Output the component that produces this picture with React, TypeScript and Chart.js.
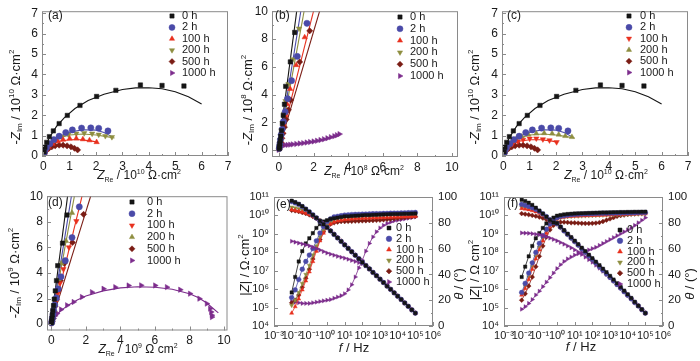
import React, { useEffect, useRef } from "react";
import { Chart, registerables } from "chart.js";
import { drawPoint } from "chart.js/helpers";

Chart.register(...registerables);

const FONT = '"Liberation Sans", Arial, Helvetica, sans-serif';
const INK = "#1a1a1a";
const FRAME = "#8a8a8a";

type Pt = [number, number];

// ---------- series ----------
const seriesLabels = ["0 h", "2 h", "100 h", "200 h", "500 h", "1000 h"];
const seriesColors = ["#151515", "#4a4aa8", "#e8301e", "#8e8e40", "#7a1c14", "#7c2c8c"];

// ---------- (a) and (c): Nyquist, 10^10 Ω·cm² ----------
const acPts0: Pt[] = [[0.03, 0.2], [0.06, 0.43], [0.13, 0.67], [0.23, 0.95], [0.38, 1.23], [0.6, 1.59], [0.91, 1.99], [1.39, 2.48], [2.02, 2.92], [2.75, 3.22], [3.68, 3.48], [4.5, 3.46], [5.33, 3.43]];
const acFit0: Pt[] = [[0, 0], [0.05, 0.3], [0.15, 0.7], [0.3, 1.05], [0.5, 1.45], [0.8, 1.88], [1.2, 2.33], [1.7, 2.72], [2.3, 3.03], [3.0, 3.26], [3.5, 3.34], [4.0, 3.35], [4.5, 3.3], [5.0, 3.15], [5.5, 2.9], [6.0, 2.55]];
const acPts2: Pt[] = [[0.02, 0.1], [0.05, 0.22], [0.12, 0.4], [0.25, 0.6], [0.4, 0.8], [0.6, 0.97], [0.85, 1.15], [1.1, 1.28], [1.45, 1.37], [1.8, 1.38], [2.1, 1.36], [2.45, 1.23]];
const acFit2: Pt[] = [[0, 0], [0.1, 0.38], [0.3, 0.7], [0.6, 0.96], [1.0, 1.17], [1.5, 1.29], [2.0, 1.27], [2.3, 1.15], [2.6, 0.95]];
const acPts100: Pt[] = [[0.02, 0.06], [0.04, 0.14], [0.1, 0.3], [0.2, 0.45], [0.35, 0.6], [0.55, 0.72], [0.75, 0.8], [1.0, 0.85], [1.25, 0.86], [1.5, 0.82], [1.75, 0.77], [2.02, 0.68]];
const acFit100: Pt[] = [[0, 0], [0.1, 0.28], [0.3, 0.55], [0.6, 0.72], [1.0, 0.8], [1.4, 0.8], [1.8, 0.74], [2.05, 0.68]];
const acPts200: Pt[] = [[0.02, 0.08], [0.04, 0.18], [0.09, 0.33], [0.18, 0.5], [0.3, 0.66], [0.48, 0.82], [0.7, 0.95], [0.95, 1.05], [1.25, 1.1], [1.55, 1.12], [1.85, 1.1], [2.1, 1.05], [2.35, 0.98], [2.6, 0.93]];
const acFit200: Pt[] = [[0, 0], [0.1, 0.35], [0.3, 0.65], [0.6, 0.88], [1.0, 1.03], [1.5, 1.08], [2.0, 1.03], [2.4, 0.95], [2.7, 0.88]];
const acPts500: Pt[] = [[0.02, 0.05], [0.04, 0.12], [0.08, 0.22], [0.14, 0.31], [0.22, 0.39], [0.32, 0.45], [0.45, 0.5], [0.6, 0.53], [0.75, 0.53], [0.9, 0.5], [1.05, 0.45], [1.18, 0.38], [1.3, 0.3]];
const acFit500: Pt[] = [[0, 0], [0.1, 0.25], [0.3, 0.43], [0.6, 0.52], [0.9, 0.49], [1.1, 0.42], [1.3, 0.3]];
const acPts1000: Pt[] = [[0.01, 0.02], [0.02, 0.05], [0.03, 0.08]];

// ---------- (b): Nyquist, 10^8 Ω·cm² ----------
const bPts0: Pt[] = [[0.02, 0.1], [0.03, 0.25], [0.05, 0.45], [0.08, 0.7], [0.11, 1.0], [0.15, 1.4], [0.2, 1.9], [0.25, 2.5], [0.32, 3.3], [0.39, 4.59], [0.66, 6.35], [0.91, 8.47]];
const bPts2: Pt[] = [[0.02, 0.12], [0.04, 0.3], [0.06, 0.5], [0.09, 0.75], [0.13, 1.1], [0.19, 1.5], [0.26, 2.05], [0.36, 2.75], [0.5, 3.7], [0.73, 5.0], [1.06, 6.75], [1.62, 9.13]];
const bPts100: Pt[] = [[0.02, 0.1], [0.04, 0.25], [0.06, 0.42], [0.1, 0.65], [0.14, 0.95], [0.2, 1.35], [0.27, 1.85], [0.36, 2.5], [0.48, 3.3], [0.65, 4.4], [1.0, 6.12], [1.49, 8.12]];
const bPts200: Pt[] = [[0.02, 0.1], [0.03, 0.27], [0.05, 0.45], [0.08, 0.7], [0.11, 1.02], [0.15, 1.42], [0.21, 1.95], [0.29, 2.6], [0.38, 3.53], [0.55, 4.75], [0.81, 6.54], [1.16, 8.75]];
const bPts500: Pt[] = [[0.02, 0.06], [0.04, 0.18], [0.08, 0.35], [0.12, 0.55], [0.17, 0.85], [0.24, 1.2], [0.32, 1.65], [0.42, 2.2], [0.55, 2.9], [0.68, 3.6], [1.2, 6.35], [1.78, 8.59]];
const bPts1000: Pt[] = [[-0.02, 0.02], [0.0, 0.12], [0.02, 0.22], [0.04, 0.29], [0.08, 0.33], [0.15, 0.34], [0.25, 0.35], [0.35, 0.36], [0.5, 0.37], [0.65, 0.39], [0.8, 0.41], [1.0, 0.44], [1.2, 0.47], [1.4, 0.5], [1.6, 0.54], [1.8, 0.58], [2.0, 0.62], [2.2, 0.67], [2.4, 0.72], [2.6, 0.78], [2.8, 0.85], [3.0, 0.93], [3.2, 1.0], [3.35, 1.07], [3.5, 1.15]];
const bFit0: Pt[] = [[-0.03, 0], [1.08, 10.5]];
const bFit2: Pt[] = [[-0.03, 0], [1.33, 10.5]];
const bFit100: Pt[] = [[-0.03, 0], [2.1, 10.5]];
const bFit200: Pt[] = [[-0.03, 0], [1.53, 10.5]];
const bFit500: Pt[] = [[-0.03, 0], [2.47, 10.5]];

// ---------- (d): Nyquist, 10^9 Ω·cm² ----------
const dPts0: Pt[] = [[0.01, 0.1], [0.02, 0.25], [0.04, 0.45], [0.06, 0.72], [0.09, 1.05], [0.13, 1.45], [0.17, 1.95], [0.23, 2.6], [0.3, 3.4], [0.37, 4.57], [0.65, 6.33], [0.91, 8.53]];
const dPts2: Pt[] = [[0.02, 0.1], [0.04, 0.28], [0.06, 0.48], [0.1, 0.75], [0.14, 1.08], [0.2, 1.5], [0.29, 2.05], [0.4, 2.75], [0.56, 3.7], [0.81, 4.96], [1.2, 6.77], [1.62, 9.17]];
const dPts100: Pt[] = [[0.02, 0.08], [0.04, 0.22], [0.06, 0.4], [0.1, 0.62], [0.14, 0.92], [0.2, 1.3], [0.27, 1.8], [0.37, 2.4], [0.5, 3.2], [0.7, 4.3], [1.02, 6.0], [1.45, 8.05]];
const dPts200: Pt[] = [[0.02, 0.1], [0.03, 0.26], [0.05, 0.45], [0.08, 0.7], [0.11, 1.02], [0.16, 1.42], [0.22, 1.95], [0.3, 2.6], [0.42, 3.5], [0.58, 4.75], [0.85, 6.5], [1.2, 8.7]];
const dPts500: Pt[] = [[0.02, 0.07], [0.04, 0.2], [0.07, 0.4], [0.11, 0.65], [0.16, 0.98], [0.22, 1.4], [0.3, 1.9], [0.4, 2.6], [0.52, 3.4], [0.75, 4.75], [1.23, 6.38], [1.87, 8.58]];
const dPts1000: Pt[] = [[0.01, 0.05], [0.05, 0.2], [0.13, 0.44], [0.22, 0.65], [0.33, 0.83], [0.56, 1.14], [0.91, 1.47], [1.29, 1.73], [1.77, 2.12], [2.35, 2.5], [3.02, 2.76], [3.7, 2.89], [4.47, 3.02], [5.2, 3.03], [6.01, 3.02], [6.69, 2.89], [7.46, 2.69], [8.03, 2.38], [8.57, 1.99], [9.0, 1.6], [9.19, 1.21], [9.25, 0.95], [9.29, 0.7], [9.3, 0.55]];
const dFit0: Pt[] = [[-0.03, 0], [0.98, 10.4]];
const dFit2: Pt[] = [[-0.03, 0], [1.21, 10.4]];
const dFit100: Pt[] = [[-0.03, 0], [1.85, 10.4]];
const dFit200: Pt[] = [[-0.03, 0], [1.39, 10.4]];
const dFit500: Pt[] = [[-0.03, 0], [2.37, 10.4]];
const dFit1000: Pt[] = [[0, 0], [0.2, 0.55], [0.5, 1.0], [1, 1.5], [1.5, 1.88], [2, 2.2], [3, 2.6], [4, 2.83], [5, 2.92], [6, 2.88], [7, 2.72], [8, 2.38], [8.5, 2.08], [9, 1.65], [9.3, 1.3], [9.67, 0.88]];

// ---------- (e), (f): Bode ----------
const freqHz = [0.01, 0.0158, 0.0251, 0.0398, 0.0631, 0.1, 0.158, 0.251, 0.398, 0.631, 1, 1.58, 2.51, 3.98, 6.31, 10, 15.8, 25.1, 39.8, 63.1, 100, 158, 251, 398, 631, 1000, 1580, 2510, 3980, 6310, 10000, 15800, 25100, 39800, 63100, 100000];

// log10 |Z| (Ω·cm²)
const eLogZ0 = [10.8, 10.72, 10.62, 10.5, 10.35, 10.2, 10.03, 9.87, 9.7, 9.52, 9.35, 9.16, 8.97, 8.78, 8.59, 8.4, 8.21, 8.03, 7.84, 7.65, 7.46, 7.28, 7.1, 6.91, 6.73, 6.54, 6.36, 6.17, 5.99, 5.8, 5.62, 5.44, 5.25, 5.07, 4.88, 4.7];
const eLogZ2 = [10.75, 10.68, 10.6, 10.48, 10.34, 10.19, 10.03, 9.86, 9.69, 9.52, 9.35, 9.16, 8.97, 8.78, 8.59, 8.4, 8.21, 8.03, 7.84, 7.65, 7.46, 7.28, 7.1, 6.91, 6.73, 6.54, 6.36, 6.17, 5.99, 5.8, 5.62, 5.44, 5.25, 5.07, 4.88, 4.7];
const eLogZ100 = [10.31, 10.27, 10.23, 10.18, 10.12, 10.05, 9.96, 9.85, 9.71, 9.54, 9.36, 9.17, 8.98, 8.79, 8.6, 8.41, 8.22, 8.03, 7.84, 7.65, 7.46, 7.28, 7.1, 6.91, 6.73, 6.54, 6.36, 6.17, 5.99, 5.8, 5.62, 5.44, 5.25, 5.07, 4.88, 4.7];
const eLogZ200 = [10.45, 10.41, 10.36, 10.3, 10.22, 10.13, 10.02, 9.89, 9.74, 9.55, 9.37, 9.17, 8.98, 8.79, 8.6, 8.41, 8.22, 8.03, 7.84, 7.65, 7.46, 7.28, 7.1, 6.91, 6.73, 6.54, 6.36, 6.17, 5.99, 5.8, 5.62, 5.44, 5.25, 5.07, 4.88, 4.7];
const eLogZ500 = [10.28, 10.25, 10.21, 10.16, 10.1, 10.03, 9.94, 9.83, 9.7, 9.53, 9.36, 9.17, 8.98, 8.79, 8.6, 8.41, 8.22, 8.03, 7.84, 7.65, 7.46, 7.28, 7.1, 6.91, 6.73, 6.54, 6.36, 6.17, 5.99, 5.8, 5.62, 5.44, 5.25, 5.07, 4.88, 4.7];
const eLogZ1000 = [8.6, 8.55, 8.5, 8.45, 8.4, 8.35, 8.28, 8.2, 8.12, 8.04, 7.96, 7.9, 7.84, 7.78, 7.73, 7.68, 7.62, 7.56, 7.5, 7.44, 7.38, 7.26, 7.09, 6.91, 6.73, 6.54, 6.36, 6.17, 5.99, 5.8, 5.62, 5.44, 5.25, 5.07, 4.88, 4.7];
// phase angle θ (°)
const eTheta0 = [26, 38, 50, 58, 64, 68, 72, 76, 79, 81, 82, 83, 83.5, 84, 84.5, 85, 85, 85.3, 85.5, 85.6, 85.8, 86, 86, 86.2, 86.3, 86.4, 86.5, 86.6, 86.7, 86.8, 86.8, 86.9, 87, 87, 87.1, 87.2];
const eTheta2 = [22, 28, 36, 44, 50, 55, 60, 66, 72, 77, 81, 83, 84.5, 85, 85.5, 86, 86.2, 86.4, 86.5, 86.6, 86.7, 86.8, 86.9, 87, 87, 87.1, 87.2, 87.3, 87.4, 87.5, 87.5, 87.6, 87.7, 87.8, 87.9, 88];
const eTheta100 = [10, 15, 21, 28, 35, 42, 50, 58, 66, 72, 76, 79, 80.5, 81.5, 82, 82.5, 82.8, 83, 83.2, 83.4, 83.5, 83.6, 83.7, 83.8, 83.9, 84, 84.1, 84.2, 84.3, 84.4, 84.5, 84.6, 84.7, 84.8, 84.9, 85];
const eTheta200 = [16, 20, 26, 33, 40, 47, 55, 62, 69, 74, 78, 80.5, 82, 83, 83.5, 84, 84.2, 84.4, 84.6, 84.8, 84.9, 85, 85.1, 85.2, 85.3, 85.4, 85.5, 85.6, 85.7, 85.8, 85.9, 86, 86, 86.1, 86.2, 86.3];
const eTheta500 = [18, 20, 24, 30, 37, 44, 52, 60, 67, 73, 77, 79, 80, 80.5, 81, 81, 81.1, 81.2, 81.3, 81.4, 81.5, 81.6, 81.7, 81.8, 81.9, 82, 82.3, 82.6, 82.9, 83.2, 83.5, 83.8, 84.1, 84.4, 84.7, 85];
const eTheta1000 = [19, 18.5, 18, 17.5, 17.5, 17.5, 18, 18.5, 19, 19.5, 20, 20.5, 21.5, 22.5, 23.5, 25, 28, 32, 38, 45, 51, 58, 64, 69, 73, 76, 78, 79.5, 80.5, 81.5, 82, 82.5, 83, 83.5, 84, 84.5];

const fLogZ0 = [10.85, 10.78, 10.69, 10.57, 10.42, 10.26, 10.1, 9.93, 9.76, 9.62, 9.58, 9.39, 9.2, 9.01, 8.82, 8.63, 8.44, 8.25, 8.06, 7.87, 7.68, 7.49, 7.3, 7.11, 6.92, 6.72, 6.52, 6.32, 6.12, 5.92, 5.72, 5.52, 5.31, 5.1, 4.9, 4.7];
const fLogZ2 = [10.6, 10.55, 10.49, 10.42, 10.33, 10.22, 10.08, 9.93, 9.77, 9.62, 9.55, 9.36, 9.16, 8.97, 8.77, 8.58, 8.39, 8.19, 8.0, 7.8, 7.61, 7.42, 7.22, 7.03, 6.83, 6.64, 6.45, 6.25, 6.06, 5.86, 5.67, 5.48, 5.28, 5.09, 4.89, 4.7];
const fLogZ100 = [10.38, 10.35, 10.31, 10.26, 10.2, 10.12, 10.02, 9.9, 9.76, 9.62, 9.55, 9.36, 9.16, 8.97, 8.77, 8.58, 8.39, 8.19, 8.0, 7.8, 7.61, 7.42, 7.22, 7.03, 6.83, 6.64, 6.45, 6.25, 6.06, 5.86, 5.67, 5.48, 5.28, 5.09, 4.89, 4.7];
const fLogZ200 = [10.45, 10.42, 10.38, 10.33, 10.26, 10.17, 10.06, 9.93, 9.78, 9.63, 9.55, 9.36, 9.16, 8.97, 8.77, 8.58, 8.39, 8.19, 8.0, 7.8, 7.61, 7.42, 7.22, 7.03, 6.83, 6.64, 6.45, 6.25, 6.06, 5.86, 5.67, 5.48, 5.28, 5.09, 4.89, 4.7];
const fLogZ500 = [10.1, 10.07, 10.04, 10.0, 9.96, 9.91, 9.85, 9.78, 9.7, 9.62, 9.54, 9.35, 9.16, 8.97, 8.77, 8.58, 8.39, 8.19, 8.0, 7.8, 7.61, 7.42, 7.22, 7.03, 6.83, 6.64, 6.45, 6.25, 6.06, 5.86, 5.67, 5.48, 5.28, 5.09, 4.89, 4.7];
const fLogZ1000 = [9.05, 9.04, 9.03, 9.01, 8.98, 8.95, 8.9, 8.84, 8.77, 8.7, 8.62, 8.53, 8.44, 8.34, 8.24, 8.13, 8.01, 7.88, 7.74, 7.6, 7.46, 7.3, 7.14, 6.97, 6.8, 6.63, 6.45, 6.25, 6.06, 5.86, 5.67, 5.48, 5.28, 5.09, 4.89, 4.7];
const fTheta0 = [38, 46, 54, 62, 68, 72, 76, 79.5, 82, 84, 85.5, 86, 86.5, 86.8, 87, 87.2, 87.3, 87.4, 87.5, 87.6, 87.7, 87.8, 87.9, 88, 88, 88.1, 88.2, 88.2, 88.3, 88.3, 88.4, 88.4, 88.5, 88.5, 88.6, 88.6];
const fTheta2 = [26, 33, 41, 49, 57, 64, 70, 75, 79, 82, 84, 85, 85.5, 86, 86.3, 86.5, 86.7, 86.8, 86.9, 87, 87.1, 87.2, 87.3, 87.4, 87.4, 87.5, 87.5, 87.6, 87.6, 87.7, 87.7, 87.8, 87.8, 87.9, 87.9, 88];
const fTheta100 = [24, 29, 36, 44, 52, 59, 66, 72, 77, 80.5, 83, 84, 84.5, 84.8, 85, 85.2, 85.3, 85.4, 85.5, 85.6, 85.7, 85.8, 85.9, 86, 86.1, 86.2, 86.3, 86.4, 86.5, 86.6, 86.7, 86.8, 86.8, 86.9, 86.9, 87];
const fTheta200 = [25, 31, 38, 46, 54, 61, 68, 73.5, 78, 81, 83, 84, 84.5, 84.8, 85, 85.1, 85.2, 85.3, 85.4, 85.5, 85.6, 85.7, 85.8, 85.9, 86, 86.1, 86.2, 86.3, 86.4, 86.5, 86.6, 86.7, 86.8, 86.8, 86.9, 87];
const fTheta500 = [20, 25, 31, 38, 46, 54, 62, 69, 74.5, 78, 80, 80.5, 80.5, 80.3, 80, 80, 79.8, 79.6, 79.5, 79.5, 79.6, 79.8, 80.2, 81, 82, 83, 84, 85, 85.6, 86, 86.4, 86.7, 87, 87.2, 87.4, 87.5];
const fTheta1000 = [13, 15, 17.5, 20.5, 24, 27, 30.5, 34, 37.5, 41, 44.5, 47.5, 50, 52, 53.5, 55, 56, 57, 58, 59, 60, 61, 62.5, 64, 65.5, 67, 68.5, 70, 71.5, 73, 74.5, 76, 78, 80, 82, 84];

// ---------- tick labels ----------
const acXTicks = [0, 1, 2, 3, 4, 5, 6, 7];
const acYTicks = [0, 1, 2, 3, 4, 5, 6, 7];
const bdTicks = [0, 2, 4, 6, 8, 10];
const freqTicks = [1e-3, 1e-2, 1e-1, 1, 1e1, 1e2, 1e3, 1e4, 1e5, 1e6];
const zTicks = [1e4, 1e5, 1e6, 1e7, 1e8, 1e9, 1e10, 1e11];
const thetaTicks = [0, 20, 40, 60, 80, 100];

// ---------- styles ----------
type Style = { ps: string; rot: number };
const stylesA: Style[] = [
  { ps: "rect", rot: 0 }, { ps: "circle", rot: 0 }, { ps: "triangle", rot: 0 },
  { ps: "triangle", rot: 180 }, { ps: "rectRot", rot: 0 }, { ps: "triangle", rot: 90 },
];
const stylesC: Style[] = [
  { ps: "rect", rot: 0 }, { ps: "circle", rot: 0 }, { ps: "triangle", rot: 180 },
  { ps: "triangle", rot: 0 }, { ps: "rectRot", rot: 0 }, { ps: "triangle", rot: 90 },
];

const SUP: Record<string, string> = { "-": "⁻", "0": "⁰", "1": "¹", "2": "²", "3": "³", "4": "⁴", "5": "⁵", "6": "⁶", "7": "⁷", "8": "⁸", "9": "⁹" };
const pow10Label = (v: number) => "10" + String(Math.round(Math.log10(v))).split("").map((c) => SUP[c]).join("");

type Part = [string, string];
function drawRich(ctx: CanvasRenderingContext2D, parts: Part[], x: number, y: number, size: number, rot: number) {
  const small = Math.round(size * 0.62);
  const fontFor = (k: string) =>
    k === "i" ? `italic ${size}px ${FONT}` : k === "sub" || k === "sup" ? `${small}px ${FONT}` : `${size}px ${FONT}`;
  let total = 0;
  const ws = parts.map(([t, k]) => {
    ctx.font = fontFor(k);
    const w = ctx.measureText(t).width;
    total += w;
    return w;
  });
  ctx.save();
  ctx.translate(x, y);
  ctx.rotate(rot);
  ctx.textBaseline = "middle";
  ctx.textAlign = "left";
  ctx.fillStyle = INK;
  let cur = -total / 2;
  parts.forEach(([t, k], i) => {
    ctx.font = fontFor(k);
    const dy = k === "sub" ? size * 0.32 : k === "sup" ? -size * 0.36 : 0;
    ctx.fillText(t, cur, dy);
    cur += ws[i];
  });
  ctx.restore();
}

interface Box { cx: number; cy: number; cw: number; ch: number; L: number; R: number; T: number; B: number }
interface Title { parts: Part[]; x: number; y: number; size: number; rot: number }
interface Deco {
  tag: string; tagX: number; tagY: number;
  legend: { mx: number; tx: number; y0: number; dy: number; r: number; styles: Style[] };
  titles: Title[];
}

const UP = -Math.PI / 2;
const zRe = (p: string): Part[] => [["Z", "i"], ["Re", "sub"], [" / 10", "n"], [p, "sup"], [" Ω·cm", "n"], ["2", "sup"]];
const zReNoDot = (p: string): Part[] => [["Z", "i"], ["Re", "sub"], [" / 10", "n"], [p, "sup"], [" Ω cm", "n"], ["2", "sup"]];
const zIm = (p: string): Part[] => [["-", "n"], ["Z", "i"], ["Im", "sub"], [" / 10", "n"], [p, "sup"], [" Ω·cm", "n"], ["2", "sup"]];

function decorPlugin(box: Box, deco: Deco) {
  return {
    id: "decor",
    afterDraw(chart: any) {
      const ctx = chart.ctx as CanvasRenderingContext2D;
      const a = chart.chartArea;
      ctx.save();
      ctx.strokeStyle = FRAME;
      ctx.lineWidth = 1;
      ctx.strokeRect(a.left + 0.5, a.top + 0.5, a.right - a.left - 1, a.bottom - a.top - 1);
      const seg = (x1: number, y1: number, x2: number, y2: number) => {
        ctx.beginPath(); ctx.moveTo(x1, y1); ctx.lineTo(x2, y2); ctx.stroke();
      };
      const doScale = (s: any, side: string) => {
        if (!s) return;
        const vals: number[] = s.ticks.map((t: any) => t.value);
        const minors: number[] = [];
        if (s.type === "linear") for (let i = 0; i < vals.length - 1; i++) minors.push((vals[i] + vals[i + 1]) / 2);
        const draw = (v: number, len: number) => {
          const p = Math.round(s.getPixelForValue(v)) + 0.5;
          if (side === "bottom") seg(p, a.bottom, p, a.bottom - len);
          if (side === "left") seg(a.left, p, a.left + len, p);
          if (side === "right") seg(a.right, p, a.right - len, p);
        };
        vals.forEach((v) => draw(v, 4));
        minors.forEach((v) => draw(v, 2));
      };
      doScale(chart.scales.x, "bottom");
      doScale(chart.scales.y, "left");
      doScale(chart.scales.y2, "right");

      ctx.fillStyle = INK;
      ctx.font = `12px ${FONT}`;
      ctx.textBaseline = "middle";
      ctx.textAlign = "left";
      ctx.fillText(deco.tag, deco.tagX - box.cx, deco.tagY - box.cy);

      const lg = deco.legend;
      seriesLabels.forEach((lab, i) => {
        const y = lg.y0 + i * lg.dy - box.cy;
        ctx.fillStyle = seriesColors[i];
        ctx.strokeStyle = seriesColors[i];
        ctx.lineWidth = 0.5;
        drawPoint(ctx, { pointStyle: lg.styles[i].ps as any, rotation: lg.styles[i].rot, radius: lg.r, borderWidth: 0.5 }, lg.mx - box.cx, y);
        ctx.fillStyle = INK;
        ctx.font = `11px ${FONT}`;
        ctx.textBaseline = "middle";
        ctx.fillText(lab, lg.tx - box.cx, y);
      });
      deco.titles.forEach((t) => drawRich(ctx, t.parts, t.x - box.cx, t.y - box.cy, t.size, t.rot));
      ctx.restore();
    },
  };
}

function axis(type: string, position: string, range: [number, number], ticks: number[], fit: (s: any) => void, size: number, padding: number, log = false) {
  return {
    type, position, min: range[0], max: range[1],
    afterBuildTicks: (s: any) => { s.ticks = ticks.map((v) => ({ value: v })); },
    afterFit: fit,
    grid: { display: false, drawTicks: false },
    border: { display: false },
    ticks: {
      color: INK, font: { family: FONT, size }, padding, autoSkip: false, maxRotation: 0, minRotation: 0,
      ...(log ? { callback: (v: any) => pow10Label(Number(v)) } : {}),
    },
  };
}

const toXY = (p: Pt[]) => p.map(([x, y]) => ({ x, y }));

function nyquistConfig(box: Box, xr: [number, number], yr: [number, number], xt: number[], yt: number[],
  fits: (Pt[] | null)[], pts: Pt[][], styles: Style[], deco: Deco) {
  const datasets: any[] = [];
  fits.forEach((f, i) => {
    if (!f) return;
    datasets.push({ data: toXY(f), showLine: true, pointRadius: 0, borderColor: seriesColors[i], borderWidth: 1.1, order: 2 });
  });
  pts.forEach((p, i) => {
    datasets.push({
      data: toXY(p), showLine: false, pointStyle: styles[i].ps, pointRotation: styles[i].rot, pointRadius: 3.1,
      backgroundColor: seriesColors[i], borderColor: seriesColors[i], borderWidth: 0.5, order: 1,
    });
  });
  return {
    type: "scatter",
    data: { datasets },
    options: {
      responsive: false, animation: false, events: [],
      layout: { padding: { left: 0, top: box.T - box.cy, right: box.cx + box.cw - box.R, bottom: 0 } },
      plugins: { legend: { display: false }, tooltip: { enabled: false } },
      scales: {
        x: axis("linear", "bottom", xr, xt, (s: any) => { s.height = box.cy + box.ch - box.B; }, 12, 3),
        y: axis("linear", "left", yr, yt, (s: any) => { s.width = box.L - box.cx; }, 12, 4),
      },
    },
    plugins: [decorPlugin(box, deco)],
  };
}

function bodeConfig(box: Box, zs: number[][], ths: number[][], deco: Deco) {
  const datasets: any[] = [];
  zs.forEach((z, i) => {
    datasets.push({
      data: freqHz.map((f, k) => ({ x: f, y: Math.pow(10, z[k]) })), yAxisID: "y",
      showLine: true, borderWidth: 0.8, borderColor: seriesColors[i], backgroundColor: seriesColors[i],
      pointStyle: stylesA[i].ps, pointRotation: stylesA[i].rot, pointRadius: 2.4, pointBorderWidth: 0.4,
    });
  });
  ths.forEach((t, i) => {
    datasets.push({
      data: freqHz.map((f, k) => ({ x: f, y: t[k] })), yAxisID: "y2",
      showLine: true, borderWidth: 0.8, borderColor: seriesColors[i], backgroundColor: seriesColors[i],
      pointStyle: stylesA[i].ps, pointRotation: stylesA[i].rot, pointRadius: 2.4, pointBorderWidth: 0.4,
    });
  });
  return {
    type: "scatter",
    data: { datasets },
    options: {
      responsive: false, animation: false, events: [],
      layout: { padding: { left: 0, top: box.T - box.cy, right: 0, bottom: 0 } },
      plugins: { legend: { display: false }, tooltip: { enabled: false } },
      scales: {
        x: axis("logarithmic", "bottom", [1e-3, 1e6], freqTicks, (s: any) => { s.height = box.cy + box.ch - box.B; }, 11, 3, true),
        y: axis("logarithmic", "left", [1e4, 1e11], zTicks, (s: any) => { s.width = box.L - box.cx; }, 11, 5, true),
        y2: axis("linear", "right", [0, 100], thetaTicks, (s: any) => { s.width = box.cx + box.cw - box.R; }, 11.5, 5),
      },
    },
    plugins: [decorPlugin(box, deco)],
  };
}

// ---------- panels ----------
const boxA: Box = { cx: 0, cy: 0, cw: 240, ch: 190, L: 42, R: 228, T: 8, B: 156 };
const boxB: Box = { cx: 232, cy: 0, cw: 236, ch: 190, L: 272, R: 458, T: 8, B: 157 };
const boxC: Box = { cx: 462, cy: 0, cw: 238, ch: 190, L: 502, R: 688, T: 8, B: 156 };
const boxD: Box = { cx: 0, cy: 185, cw: 240, ch: 176, L: 47, R: 227.5, T: 195, B: 330.5 };
const boxE: Box = { cx: 232, cy: 185, cw: 236, ch: 176, L: 274, R: 433, T: 197, B: 326 };
const boxF: Box = { cx: 462, cy: 185, cw: 238, ch: 176, L: 504, R: 663, T: 197, B: 326 };

const panels: { id: string; box: Box; make: () => any }[] = [
  {
    id: "a", box: boxA,
    make: () => nyquistConfig(boxA, [-0.05, 7], [0, 7.1], acXTicks, acYTicks,
      [acFit0, acFit2, acFit100, acFit200, acFit500, null],
      [acPts0, acPts2, acPts100, acPts200, acPts500, acPts1000], stylesA,
      {
        tag: "(a)", tagX: 48, tagY: 16,
        legend: { mx: 172, tx: 182, y0: 16, dy: 11.4, r: 3, styles: stylesA },
        titles: [
          { parts: zRe("10"), x: 139, y: 176, size: 12, rot: 0 },
          { parts: zIm("10"), x: 16, y: 97, size: 13, rot: UP },
        ],
      }),
  },
  {
    id: "b", box: boxB,
    make: () => nyquistConfig(boxB, [-0.4, 10.35], [-0.5, 10], bdTicks, bdTicks,
      [bFit0, bFit2, bFit100, bFit200, bFit500, bPts1000],
      [bPts0, bPts2, bPts100, bPts200, bPts500, bPts1000], stylesA,
      {
        tag: "(b)", tagX: 275, tagY: 16,
        legend: { mx: 400, tx: 410, y0: 17, dy: 11.8, r: 3, styles: stylesA },
        titles: [
          { parts: zRe("8"), x: 364, y: 172, size: 12, rot: 0 },
          { parts: zIm("8"), x: 248, y: 100, size: 13, rot: UP },
        ],
      }),
  },
  {
    id: "c", box: boxC,
    make: () => nyquistConfig(boxC, [-0.05, 7], [0, 7.1], acXTicks, acYTicks,
      [acFit0, acFit2, acFit100, acFit200, acFit500, null],
      [acPts0, acPts2, acPts100, acPts200, acPts500, acPts1000], stylesC,
      {
        tag: "(c)", tagX: 507, tagY: 16,
        legend: { mx: 629, tx: 640, y0: 16, dy: 11.3, r: 3, styles: stylesC },
        titles: [
          { parts: zRe("10"), x: 606, y: 176, size: 12, rot: 0 },
          { parts: zIm("10"), x: 475, y: 97, size: 13, rot: UP },
        ],
      }),
  },
  {
    id: "d", box: boxD,
    make: () => nyquistConfig(boxD, [-0.25, 10.2], [-0.5, 10], bdTicks, bdTicks,
      [dFit0, dFit2, dFit100, dFit200, dFit500, dFit1000],
      [dPts0, dPts2, dPts100, dPts200, dPts500, dPts1000], stylesC,
      {
        tag: "(d)", tagX: 48, tagY: 203,
        legend: { mx: 132, tx: 147, y0: 202, dy: 11.7, r: 3, styles: stylesC },
        titles: [
          { parts: zReNoDot("9"), x: 138, y: 350, size: 12, rot: 0 },
          { parts: zIm("9"), x: 15, y: 273, size: 13, rot: UP },
        ],
      }),
  },
  {
    id: "e", box: boxE,
    make: () => bodeConfig(boxE,
      [eLogZ0, eLogZ2, eLogZ100, eLogZ200, eLogZ500, eLogZ1000],
      [eTheta0, eTheta2, eTheta100, eTheta200, eTheta500, eTheta1000],
      {
        tag: "(e)", tagX: 276, tagY: 205,
        legend: { mx: 389, tx: 396, y0: 228, dy: 10.8, r: 2.8, styles: stylesA },
        titles: [
          { parts: [["f", "i"], [" / Hz", "n"]], x: 354, y: 348, size: 13, rot: 0 },
          { parts: [["|", "n"], ["Z", "i"], ["| / Ω·cm", "n"], ["2", "sup"]], x: 245, y: 265, size: 13, rot: UP },
          { parts: [["θ", "i"], [" / (", "n"], ["°", "n"], [")", "n"]], x: 459, y: 284, size: 13, rot: UP },
        ],
      }),
  },
  {
    id: "f", box: boxF,
    make: () => bodeConfig(boxF,
      [fLogZ0, fLogZ2, fLogZ100, fLogZ200, fLogZ500, fLogZ1000],
      [fTheta0, fTheta2, fTheta100, fTheta200, fTheta500, fTheta1000],
      {
        tag: "(f)", tagX: 507, tagY: 204,
        legend: { mx: 620, tx: 627, y0: 230, dy: 10.8, r: 2.8, styles: stylesA },
        titles: [
          { parts: [["f", "i"], [" / Hz", "n"]], x: 581, y: 347, size: 13, rot: 0 },
          { parts: [["|", "n"], ["Z", "i"], ["| / Ω cm", "n"], ["2", "sup"]], x: 475, y: 270, size: 13, rot: UP },
          { parts: [["θ", "i"], [" / (", "n"], ["°", "n"], [")", "n"]], x: 690, y: 284, size: 13, rot: UP },
        ],
      }),
  },
];

function Panel({ p }: { p: { id: string; box: Box; make: () => any } }) {
  const ref = useRef<HTMLCanvasElement>(null);
  useEffect(() => {
    const chart = new Chart(ref.current as HTMLCanvasElement, p.make());
    return () => chart.destroy();
  }, []);
  return (
    <canvas
      ref={ref}
      width={p.box.cw}
      height={p.box.ch}
      style={{ position: "absolute", left: p.box.cx, top: p.box.cy, width: p.box.cw, height: p.box.ch }}
    />
  );
}

export default function App() {
  return (
    <div style={{ position: "absolute", left: 0, top: 0, width: 700, height: 361, background: "#fff", overflow: "hidden" }}>
      {panels.map((p) => (
        <Panel key={p.id} p={p} />
      ))}
    </div>
  );
}
